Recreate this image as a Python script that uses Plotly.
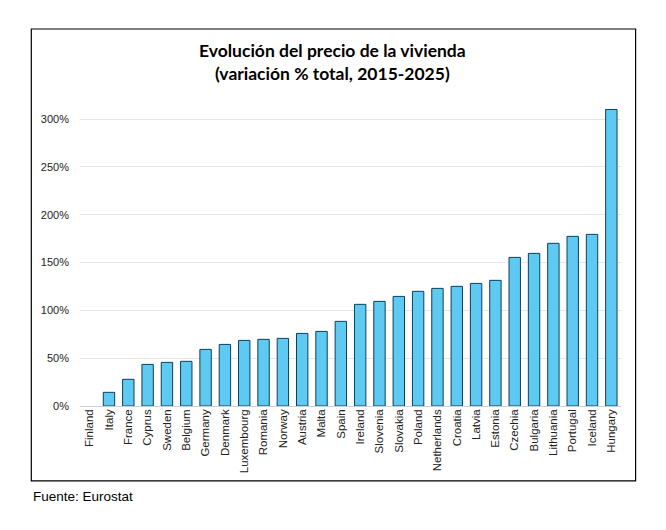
import plotly.graph_objects as go

countries = ["Finland", "Italy", "France", "Cyprus", "Sweden", "Belgium", "Germany",
             "Denmark", "Luxembourg", "Romania", "Norway", "Austria", "Malta", "Spain",
             "Ireland", "Slovenia", "Slovakia", "Poland", "Netherlands", "Croatia",
             "Latvia", "Estonia", "Czechia", "Bulgaria", "Lithuania", "Portugal",
             "Iceland", "Hungary"]
variation = [-1.0, 14.3, 27.9, 43.5, 45.6, 46.7, 59.2, 64.4, 68.6, 69.7, 70.7, 75.9,
             78.0, 88.5, 106.3, 109.4, 114.6, 119.9, 123.0, 125.1, 128.2, 131.4,
             155.4, 159.6, 170.1, 177.4, 179.5, 310.1]
y_ticks = [0, 50, 100, 150, 200, 250, 300]
y_labels = [f"{v}%" for v in y_ticks]

# bars below zero fall outside the axis range, so drop their outline too
outline = [1 if v > 0 else 0 for v in variation]

fig = go.Figure()
fig.add_trace(go.Bar(
    x=countries,
    y=variation,
    marker=dict(color="#5ECAF2", line=dict(color="#0E3F5A", width=outline)),
    hovertemplate="%{x}: %{y:.1f}%<extra></extra>",
))

# the page body adds 8px on the left and top, so margins are shifted by that
fig.update_layout(
    width=666, height=530,
    margin=dict(l=72, r=53, t=92, b=132),
    paper_bgcolor="white", plot_bgcolor="white",
    bargap=0.41,
    showlegend=False,
    font=dict(family="Liberation Sans, Arial, sans-serif", size=11, color="#222222"),
    title=dict(
        text="<b>Evolución del precio de la vivienda<br>(variación % total, 2015-2025)</b>",
        x=0.487, xanchor="center", y=0.908, yanchor="middle",
        font=dict(family="Lato, sans-serif", size=17.5, color="black"),
    ),
    xaxis=dict(
        tickangle=-90, showgrid=False, showline=False, ticks="",
        tickfont=dict(size=11.5, color="#222222"),
    ),
    yaxis=dict(
        range=[0, 320], tickvals=y_ticks, ticktext=y_labels,
        showgrid=True, gridcolor="#E6E6E6", gridwidth=1,
        zeroline=True, zerolinecolor="#D0D0D0", zerolinewidth=1,
        ticks="", showline=False, ticklabelstandoff=10,
    ),
    shapes=[dict(
        type="rect", xref="paper", yref="paper",
        x0=-0.09, x1=1.027, y0=-0.245, y1=1.232,
        line=dict(color="black", width=1.2), fillcolor="rgba(0,0,0,0)", layer="below",
    )],
    annotations=[dict(
        text="Fuente: Eurostat", xref="paper", yref="paper",
        x=-0.09, y=-0.297, xanchor="left", yanchor="middle", showarrow=False,
        font=dict(family="Liberation Sans Narrow, Arial Narrow, sans-serif", size=13.5, color="black"),
    )],
)

fig.write_html("out.html")
